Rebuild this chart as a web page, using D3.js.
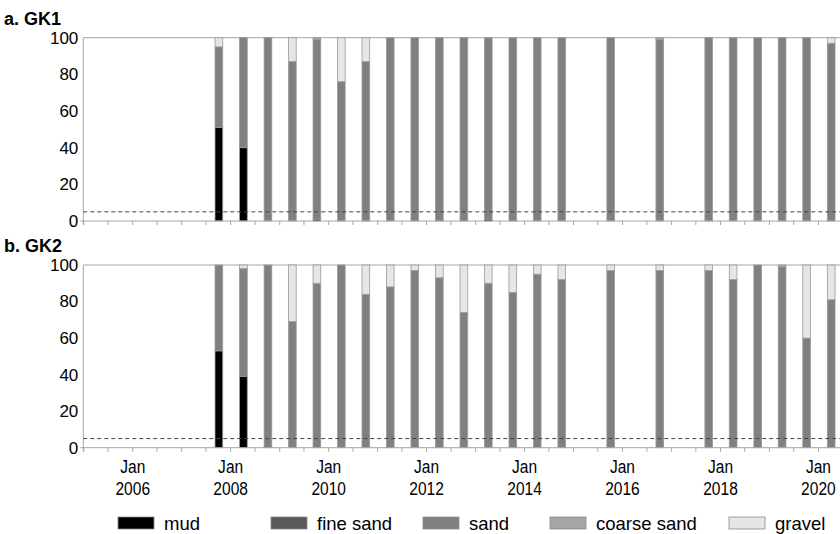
<!DOCTYPE html>
<html>
<head>
<meta charset="utf-8">
<script src="https://cdn.jsdelivr.net/npm/d3@7"></script>
<style>
  html, body { margin: 0; padding: 0; background: #fff; }
  svg { display: block; }
</style>
</head>
<body>
<svg id="chart" width="840" height="534"></svg>
<script>
// ---------- DATA ----------
const sampleDates = ["2007-10","2008-04","2008-10","2009-04","2009-10","2010-04","2010-10",
  "2011-04","2011-10","2012-04","2012-10","2013-04","2013-10","2014-04","2014-10",
  "2015-10","2016-10","2017-10","2018-04","2018-10","2019-04","2019-10","2020-04"];

const classes = ["mud", "fine sand", "sand", "coarse sand", "gravel"];
const classColors = ["#000000", "#595959", "#808080", "#a6a6a6", "#e6e6e6"];

// GK1
const gk1Mud       = [51, 40, 0, 0, 1, 0, 0, 0, 0, 0, 0, 1, 0, 0, 0, 0, 0, 0, 0, 0, 0, 0, 0];
const gk1FineSand  = [0, 0, 0, 0, 0, 0, 0, 0, 0, 0, 0, 0, 0, 0, 0, 0, 0, 0, 0, 0, 0, 0, 0];
const gk1Sand      = [44, 60, 100, 87, 98, 76, 87, 100, 100, 100, 100, 99, 100, 100, 100, 100, 99, 100, 100, 100, 100, 100, 97];
const gk1Coarse    = [0, 0, 0, 0, 1, 0, 0, 0, 0, 0, 0, 0, 0, 0, 0, 0, 1, 0, 0, 0, 0, 0, 0];
const gk1Gravel    = [5, 0, 0, 13, 0, 24, 13, 0, 0, 0, 0, 0, 0, 0, 0, 0, 0, 0, 0, 0, 0, 0, 3];

// GK2
const gk2Mud       = [53, 39, 0, 0, 0, 0, 0, 0, 0, 0, 0, 0, 0, 0, 0, 0, 0, 0, 0, 0, 0, 0, 0];
const gk2FineSand  = [0, 0, 0, 0, 0, 0, 0, 0, 0, 0, 0, 0, 0, 0, 0, 0, 0, 0, 0, 0, 0, 0, 0];
const gk2Sand      = [47, 59, 100, 69, 90, 100, 84, 88, 97, 93, 74, 90, 85, 95, 92, 97, 97, 97, 92, 100, 99, 60, 81];
const gk2Coarse    = [0, 0, 0, 0, 0, 0, 0, 0, 0, 0, 0, 0, 0, 0, 0, 0, 0, 0, 0, 0, 1, 0, 0];
const gk2Gravel    = [0, 2, 0, 31, 10, 0, 16, 12, 3, 7, 26, 10, 15, 5, 8, 3, 3, 3, 8, 0, 0, 40, 19];

const yTicks = [0, 20, 40, 60, 80, 100];
const thresholdValue = 5;
const panelTitles = ["a. GK1", "b. GK2"];

// ---------- BUILD ----------
const parseMonth = d3.timeParse("%Y-%m");
const barDates = sampleDates.map(s => d3.timeDay.offset(parseMonth(s), 8));

function buildRows(arrs) {
  return barDates.map((d, i) => {
    const r = { date: d };
    classes.forEach((c, k) => r[c] = arrs[k][i]);
    return r;
  });
}
const panels = [
  { title: panelTitles[0], rows: buildRows([gk1Mud, gk1FineSand, gk1Sand, gk1Coarse, gk1Gravel]), top: 37.7, bottom: 221, labels: false, titleY: 25 },
  { title: panelTitles[1], rows: buildRows([gk2Mud, gk2FineSand, gk2Sand, gk2Coarse, gk2Gravel]), top: 265, bottom: 447.7, labels: true, titleY: 252 }
];

const svg = d3.select("#chart");
const x = d3.scaleTime()
  .domain([new Date(2005, 0, 1), new Date(2021, 0, 1)])
  .range([83.3, 83.3 + 16 * 48.98]);
const color = d3.scaleOrdinal().domain(classes).range(classColors);
const stack = d3.stack().keys(classes);
const barW = 7.7;
const axisGray = "#a6a6a6";
const tickDates = d3.timeMonth.every(6).range(new Date(2005, 0, 1), new Date(2021, 0, 2));

panels.forEach(p => {
  const y = d3.scaleLinear().domain([0, 100]).range([p.bottom, p.top]);
  const g = svg.append("g");

  // title
  g.append("text").attr("x", 4).attr("y", p.titleY)
    .attr("font-family", "Liberation Sans, Arial, sans-serif")
    .attr("font-size", 18).attr("font-weight", "bold").attr("fill", "#000")
    .text(p.title);

  // top line at 100
  g.append("line").attr("x1", x.range()[0]).attr("x2", x.range()[1])
    .attr("y1", y(100)).attr("y2", y(100))
    .attr("stroke", axisGray).attr("stroke-width", 1);

  // y axis
  const ya = g.append("g").attr("transform", `translate(${x.range()[0]},0)`)
    .call(d3.axisLeft(y).tickValues(yTicks).tickSize(0).tickPadding(5));
  ya.select(".domain").remove();
  ya.selectAll("text").attr("font-family", "Liberation Sans, Arial, sans-serif")
    .attr("font-size", 17).attr("fill", "#000");
  g.append("line").attr("x1", x.range()[0]).attr("x2", x.range()[0])
    .attr("y1", y(100)).attr("y2", y(0) + 4)
    .attr("stroke", axisGray).attr("stroke-width", 1);

  // bars
  const series = stack(p.rows);
  g.append("g").selectAll("g").data(series).join("g")
    .attr("fill", d => color(d.key))
    .selectAll("rect").data(d => d.filter(v => v[1] - v[0] > 0)).join("rect")
    .attr("x", d => x(d.data.date) - barW / 2)
    .attr("width", barW)
    .attr("y", d => y(d[1]))
    .attr("height", d => y(d[0]) - y(d[1]))
    .attr("stroke", "#9a9a9a").attr("stroke-width", 0.8);

  // threshold line
  g.append("line").attr("x1", x.range()[0]).attr("x2", x.range()[1])
    .attr("y1", y(thresholdValue)).attr("y2", y(thresholdValue))
    .attr("stroke", "#444").attr("stroke-width", 1).attr("stroke-dasharray", "4,3");

  // x axis
  const xa = g.append("g").attr("transform", `translate(0,${y(0)})`)
    .call(d3.axisBottom(x).tickValues(tickDates).tickSize(4).tickSizeOuter(0)
      .tickFormat(d => (p.labels && d.getMonth() === 0 && d.getFullYear() % 2 === 0) ? d3.timeFormat("%b|%Y")(d) : ""));
  xa.select(".domain").attr("stroke", axisGray).attr("d", `M${x.range()[0] - 3},0H${x.range()[1]}`);
  xa.selectAll(".tick line").attr("stroke", axisGray);
  xa.selectAll(".tick text").each(function(d) {
    const t = d3.select(this);
    const s = t.text();
    t.text(null);
    if (!s) return;
    const parts = s.split("|");
    t.attr("y", 0).attr("dy", null)
      .attr("transform", "scale(0.84,1)")
      .attr("font-family", "Liberation Sans, Arial, sans-serif")
      .attr("font-size", 18.5).attr("fill", "#000");
    t.append("tspan").attr("x", 0).attr("y", 25).text(parts[0]);
    t.append("tspan").attr("x", 0).attr("y", 47.5).text(parts[1]);
  });
});

// legend
const legendX = [118, 271, 423, 550, 729];
const leg = svg.append("g").selectAll("g").data(classes).join("g")
  .attr("transform", (d, i) => `translate(${legendX[i]},517)`);
leg.append("rect").attr("width", 36).attr("height", 12)
  .attr("fill", d => color(d)).attr("stroke", "#8a8a8a").attr("stroke-width", 0.8);
leg.append("text").attr("x", 46).attr("y", 13)
  .attr("font-family", "Liberation Sans, Arial, sans-serif")
  .attr("font-size", 18.5).attr("fill", "#000")
  .text(d => d);
</script>
</body>
</html>
